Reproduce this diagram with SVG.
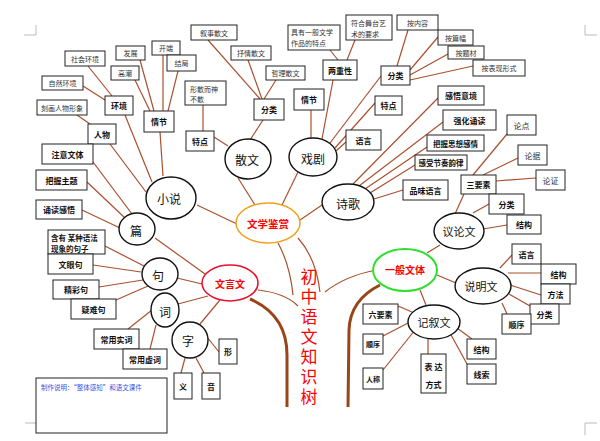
<svg xmlns="http://www.w3.org/2000/svg" width="600" height="441" viewBox="0 0 600 441">
<style>
text{font-family:"Noto Sans CJK SC","Noto Sans",sans-serif;text-anchor:middle;dominant-baseline:central;fill:#111}
.n rect{fill:#fff;stroke:#222;stroke-width:1}
.n ellipse{fill:#fff;stroke:#111;stroke-width:1.4}
.s{font-size:7px;fill:#333}
.bd{font-size:8px;font-weight:bold}
.e{font-size:12px}
.r{font-size:10.5px;font-weight:bold;fill:#f00}
.l{text-anchor:start}
#conn line,#conn path{stroke:#a9502e;stroke-width:1.2;fill:none}
#conn .tk{stroke:#9a4518;stroke-width:3}
.mk{stroke:#bbb;stroke-width:1;fill:none}
</style>
<path class="mk" d="M24,35H36V25M597,35H585V25M25,423H36M597,423H585V435"/>
<g id="conn">
<line x1="125" y1="115" x2="152" y2="182"/>
<line x1="110" y1="144" x2="146" y2="192"/>
<line x1="160" y1="132" x2="163" y2="176"/>
<line x1="88" y1="66" x2="112" y2="96"/>
<line x1="83" y1="86" x2="105" y2="100"/>
<line x1="77" y1="115" x2="90" y2="124"/>
<line x1="140" y1="60" x2="154" y2="111"/>
<line x1="135" y1="80" x2="150" y2="111"/>
<line x1="163" y1="55" x2="163" y2="111"/>
<line x1="178" y1="71" x2="168" y2="111"/>
<line x1="197" y1="205" x2="237" y2="224"/>
<line x1="238" y1="178" x2="255" y2="205"/>
<line x1="214" y1="137" x2="228" y2="146"/>
<line x1="203" y1="105" x2="203" y2="131"/>
<line x1="263" y1="120" x2="250" y2="140"/>
<line x1="208" y1="40" x2="260" y2="99"/>
<line x1="248" y1="60" x2="262" y2="99"/>
<line x1="276" y1="80" x2="264" y2="99"/>
<line x1="298" y1="172" x2="282" y2="205"/>
<line x1="311" y1="110" x2="311" y2="138"/>
<line x1="333" y1="80" x2="322" y2="139"/>
<line x1="330" y1="50" x2="338" y2="60"/>
<line x1="355" y1="40" x2="347" y2="60"/>
<line x1="381" y1="76" x2="330" y2="143"/>
<line x1="375" y1="103" x2="335" y2="148"/>
<line x1="346" y1="142" x2="336" y2="151"/>
<line x1="408" y1="30" x2="397" y2="66"/>
<line x1="438" y1="37" x2="410" y2="70"/>
<line x1="448" y1="54" x2="410" y2="75"/>
<line x1="473" y1="66" x2="410" y2="80"/>
<line x1="322" y1="205" x2="300" y2="220"/>
<line x1="353" y1="184" x2="438" y2="98"/>
<line x1="359" y1="186" x2="443" y2="122"/>
<line x1="365" y1="189" x2="427" y2="147"/>
<line x1="370" y1="193" x2="415" y2="165"/>
<line x1="374" y1="199" x2="403" y2="190"/>
<line x1="155" y1="238" x2="205" y2="274"/>
<line x1="177" y1="278" x2="202" y2="284"/>
<line x1="178" y1="304" x2="208" y2="296"/>
<line x1="200" y1="324" x2="220" y2="300"/>
<line x1="93" y1="162" x2="132" y2="214"/>
<line x1="87" y1="182" x2="125" y2="218"/>
<line x1="82" y1="210" x2="120" y2="228"/>
<line x1="105" y1="246" x2="144" y2="266"/>
<line x1="93" y1="265" x2="141" y2="272"/>
<line x1="99" y1="287" x2="143" y2="280"/>
<line x1="116" y1="300" x2="148" y2="286"/>
<line x1="128" y1="329" x2="152" y2="310"/>
<line x1="150" y1="349" x2="156" y2="325"/>
<line x1="207" y1="337" x2="219" y2="352"/>
<line x1="185" y1="358" x2="181" y2="373"/>
<line x1="196" y1="358" x2="204" y2="373"/>
<line x1="427" y1="253" x2="440" y2="245"/>
<line x1="437" y1="275" x2="456" y2="283"/>
<line x1="420" y1="290" x2="426" y2="305"/>
<line x1="455" y1="214" x2="464" y2="194"/>
<line x1="473" y1="213" x2="489" y2="204"/>
<line x1="483" y1="229" x2="507" y2="225"/>
<line x1="473" y1="175" x2="507" y2="134"/>
<line x1="483" y1="175" x2="518" y2="158"/>
<line x1="496" y1="181" x2="536" y2="178"/>
<line x1="500" y1="268" x2="512" y2="255"/>
<line x1="508" y1="273" x2="541" y2="273"/>
<line x1="510" y1="285" x2="541" y2="295"/>
<line x1="509" y1="294" x2="530" y2="306"/>
<line x1="502" y1="303" x2="507" y2="314"/>
<line x1="457" y1="328" x2="472" y2="339"/>
<line x1="450" y1="333" x2="467" y2="364"/>
<line x1="428" y1="338" x2="428" y2="354"/>
<line x1="398" y1="306" x2="412" y2="312"/>
<line x1="383" y1="336" x2="410" y2="322"/>
<line x1="383" y1="370" x2="415" y2="330"/>
<path d="M278,243Q290,265 293,295"/>
<path d="M298,238Q316,258 320,292"/>
<path d="M258,290Q285,293 298,306"/>
<path d="M376,270Q345,276 325,292"/>
<path class="tk" d="M287,407L287,355Q287,315 250,299"/>
<path class="tk" d="M348,407L349,330Q350,300 380,285"/>
</g>
<g id="center"><ellipse cx="268" cy="223" rx="32" ry="20" fill="#fff" stroke="#f0a020" stroke-width="1.5"/><text class="r" x="268" y="223">文学鉴赏</text></g>
<g id="wyw"><ellipse cx="230" cy="283" rx="28" ry="18" fill="#fff" stroke="#e8102a" stroke-width="1.5"/><text class="r" x="230" y="283" style="font-size:10px">文言文</text></g>
<g id="ybwt"><ellipse cx="405" cy="270" rx="32" ry="21" fill="#fff" stroke="#2ee02e" stroke-width="2"/><text class="r" x="405" y="269" style="font-size:10px">一般文体</text></g>
<g id="title"><text x="309" y="268.5" writing-mode="vertical-rl" style="font-size:17px;fill:#f00;text-anchor:start;dominant-baseline:auto;letter-spacing:3px">初中语文知识树</text></g>
<g class="n">
<g id="xs"><ellipse cx="171" cy="198" rx="25" ry="21"/><text class="e" x="169" y="198">小说</text></g>
<g id="sw"><ellipse cx="248" cy="159" rx="23" ry="20"/><text class="e" x="247" y="159">散文</text></g>
<g id="xj"><ellipse cx="313" cy="157" rx="24" ry="19"/><text class="e" x="313" y="158">戏剧</text></g>
<g id="sg"><ellipse cx="348" cy="202" rx="26" ry="18"/><text class="e" x="348" y="203">诗歌</text></g>
<g id="pian"><ellipse cx="137" cy="229" rx="18" ry="16"/><text class="e" x="136" y="230">篇</text></g>
<g id="ju"><ellipse cx="160" cy="274" rx="18" ry="16"/><text class="e" x="158" y="275">句</text></g>
<g id="ci"><ellipse cx="165" cy="310" rx="14" ry="17"/><text class="e" x="165" y="311">词</text></g>
<g id="zi"><ellipse cx="190" cy="340" rx="18" ry="18"/><text class="e" x="188" y="340">字</text></g>
<g id="ylw"><ellipse cx="459" cy="231" rx="25" ry="18"/><text class="e" x="459" y="231" style="font-size:11px">议论文</text></g>
<g id="smw"><ellipse cx="483" cy="286" rx="28" ry="18"/><text class="e" x="481" y="286" style="font-size:11px">说明文</text></g>
<g id="jxw"><ellipse cx="434" cy="322" rx="26" ry="17"/><text class="e" x="434" y="322" style="font-size:11px">记叙文</text></g>

<g id="b1"><rect x="65" y="51" width="40" height="15"/><text class="s" x="85" y="58.5">社会环境</text></g>
<g id="b2"><rect x="42" y="76" width="41" height="14"/><text class="s" x="62.5" y="83">自然环境</text></g>
<g id="b3"><rect x="37" y="100" width="50" height="15"/><text class="s" x="62" y="107.5">刻画人物形象</text></g>
<g id="b4"><rect x="105" y="96" width="28" height="19"/><text class="bd" x="119" y="105.5">环境</text></g>
<g id="b5"><rect x="88" y="124" width="28" height="20"/><text class="bd" x="102" y="134">人物</text></g>
<g id="b6"><rect x="116" y="46" width="29" height="14"/><text class="s" x="130.5" y="53">发展</text></g>
<g id="b7"><rect x="111" y="66" width="28" height="14"/><text class="s" x="125" y="73">高潮</text></g>
<g id="b8"><rect x="144" y="111" width="30" height="21"/><text class="bd" x="159" y="121.5">情节</text></g>
<g id="b9"><rect x="152" y="41" width="28" height="14"/><text class="s" x="166" y="48">开端</text></g>
<g id="b10"><rect x="167" y="55" width="29" height="16"/><text class="s" x="181.5" y="63">结局</text></g>
<g id="b11"><rect x="185" y="81" width="41" height="24"/><text class="s l" x="190" y="89">形散而神</text><text class="s l" x="190" y="99">不散</text></g>
<g id="b12"><rect x="186" y="131" width="28" height="20"/><text class="bd" x="200" y="141">特点</text></g>
<g id="b13"><rect x="191" y="25" width="46" height="15"/><text class="s" x="214" y="32.5">叙事散文</text></g>
<g id="b14"><rect x="231" y="46" width="40" height="14"/><text class="s" x="251" y="53">抒情散文</text></g>
<g id="b15"><rect x="266" y="66" width="39" height="14"/><text class="s" x="285.5" y="73">哲理散文</text></g>
<g id="b16"><rect x="254" y="99" width="30" height="21"/><text class="bd" x="269" y="109.5">分类</text></g>
<g id="b17"><rect x="288" y="25" width="52" height="25"/><text class="s l" x="291" y="32">具有一般文学</text><text class="s l" x="291" y="43">作品的特点</text></g>
<g id="b18"><rect x="346" y="15" width="46" height="25"/><text class="s l" x="351" y="23">符合舞台艺</text><text class="s l" x="351" y="34">术的要求</text></g>
<g id="b19"><rect x="323" y="60" width="34" height="20"/><text class="bd" x="340" y="70">两重性</text></g>
<g id="b20"><rect x="294" y="89" width="30" height="21"/><text class="bd" x="309" y="99.5">情节</text></g>
<g id="b21"><rect x="397" y="15" width="41" height="15"/><text class="s" x="417.5" y="22.5">按内容</text></g>
<g id="b22"><rect x="381" y="66" width="29" height="19"/><text class="bd" x="395.5" y="75.5">分类</text></g>
<g id="b23"><rect x="438" y="30" width="35" height="15"/><text class="s" x="455.5" y="37.5">按篇幅</text></g>
<g id="b24"><rect x="448" y="46" width="36" height="13"/><text class="s" x="466" y="52.5">按题材</text></g>
<g id="b25"><rect x="473" y="60" width="52" height="16"/><text class="s" x="499" y="68">按表现形式</text></g>
<g id="b26"><rect x="375" y="96" width="27" height="19"/><text class="bd" x="388.5" y="105.5">特点</text></g>
<g id="b27"><rect x="346" y="130" width="35" height="20"/><text class="bd" x="363.5" y="140">语言</text></g>
<g id="b28"><rect x="438" y="86" width="46" height="19"/><text class="bd" x="461" y="95.5">感悟意境</text></g>
<g id="b29"><rect x="443" y="110" width="53" height="20"/><text class="bd" x="469.5" y="120">强化诵读</text></g>
<g id="b30"><rect x="427" y="135" width="57" height="16"/><text class="bd" x="455.5" y="143" style="font-size:7.5px">把握思想感情</text></g>
<g id="b31"><rect x="415" y="155" width="52" height="15"/><text class="bd" x="441" y="162.5" style="font-size:7.5px">感受节奏韵律</text></g>
<g id="b32"><rect x="403" y="180" width="45" height="20"/><text class="bd" x="425.5" y="190">品味语言</text></g>
<g id="b33"><rect x="507" y="115" width="29" height="20"/><text class="s" x="521.5" y="125" style="font-size:8px">论点</text></g>
<g id="b34"><rect x="518" y="145" width="29" height="20"/><text class="s" x="532.5" y="155" style="font-size:8px">论据</text></g>
<g id="b35"><rect x="536" y="170" width="29" height="20"/><text class="s" x="550.5" y="180" style="font-size:8px">论证</text></g>
<g id="b36"><rect x="461" y="175" width="35" height="19"/><text class="bd" x="478.5" y="184.5">三要素</text></g>
<g id="b37"><rect x="489" y="194" width="35" height="20"/><text class="bd" x="506.5" y="204">分类</text></g>
<g id="b38"><rect x="507" y="215" width="34" height="19"/><text class="bd" x="524" y="224.5">结构</text></g>
<g id="b39"><rect x="512" y="244" width="29" height="20"/><text class="bd" x="526.5" y="254">语言</text></g>
<g id="b40"><rect x="541" y="264" width="35" height="20"/><text class="bd" x="558.5" y="274">结构</text></g>
<g id="b41"><rect x="541" y="284" width="29" height="20"/><text class="bd" x="555.5" y="294">方法</text></g>
<g id="b42"><rect x="530" y="304" width="29" height="20"/><text class="bd" x="544.5" y="314">分类</text></g>
<g id="b43"><rect x="502" y="314" width="29" height="20"/><text class="bd" x="516.5" y="324">顺序</text></g>
<g id="b44"><rect x="467" y="339" width="29" height="20"/><text class="bd" x="481.5" y="349">结构</text></g>
<g id="b45"><rect x="467" y="364" width="29" height="20"/><text class="bd" x="481.5" y="374">线索</text></g>
<g id="b46"><rect x="363" y="304" width="35" height="20"/><text class="bd" x="380.5" y="314">六要素</text></g>
<g id="b47"><rect x="363" y="334" width="20" height="20"/><text class="bd" x="373" y="344" style="font-size:7px">顺序</text></g>
<g id="b48"><rect x="363" y="368" width="20" height="21"/><text class="bd" x="373" y="378.5" style="font-size:7px">人称</text></g>
<g id="b49"><rect x="421" y="354" width="25" height="39"/><text class="bd" x="433.5" y="366">表 达</text><text class="bd" x="433.5" y="384">方式</text></g>
<g id="b50"><rect x="42" y="144" width="51" height="20"/><text class="bd" x="67.5" y="154">注意文体</text></g>
<g id="b51"><rect x="36" y="170" width="51" height="20"/><text class="bd" x="61.5" y="180">把握主题</text></g>
<g id="b52"><rect x="36" y="200" width="46" height="19"/><text class="bd" x="59" y="209.5">诵读感悟</text></g>
<g id="b53"><rect x="48" y="230" width="57" height="24"/><text class="bd l" x="51" y="237.5" style="font-size:7.5px">含有 某种语法</text><text class="bd l" x="51" y="248" style="font-size:7.5px">现象的句子</text></g>
<g id="b54"><rect x="48" y="254" width="45" height="20"/><text class="bd" x="70.5" y="264">文眼句</text></g>
<g id="b55"><rect x="53" y="280" width="46" height="19"/><text class="bd" x="76" y="289.5">精彩句</text></g>
<g id="b56"><rect x="71" y="299" width="45" height="20"/><text class="bd" x="93.5" y="309">疑难句</text></g>
<g id="b57"><rect x="94" y="329" width="45" height="20"/><text class="bd" x="116.5" y="339">常用实词</text></g>
<g id="b58"><rect x="123" y="349" width="44" height="20"/><text class="bd" x="145" y="359">常用虚词</text></g>
<g id="b59"><rect x="219" y="339" width="18" height="25"/><text class="bd" x="228" y="351.5">形</text></g>
<g id="b60"><rect x="174" y="373" width="18" height="26"/><text class="bd" x="183" y="386">义</text></g>
<g id="b61"><rect x="202" y="373" width="18" height="26"/><text class="bd" x="211" y="386">音</text></g>
</g>
<g id="note"><rect x="36" y="378" width="131" height="55" fill="#fff" stroke="#222" stroke-width="1"/><text class="l" x="41" y="387" style="font-size:6.5px;fill:#3355dd">制作说明：“整体感知”和语文课件</text></g>
</svg>
